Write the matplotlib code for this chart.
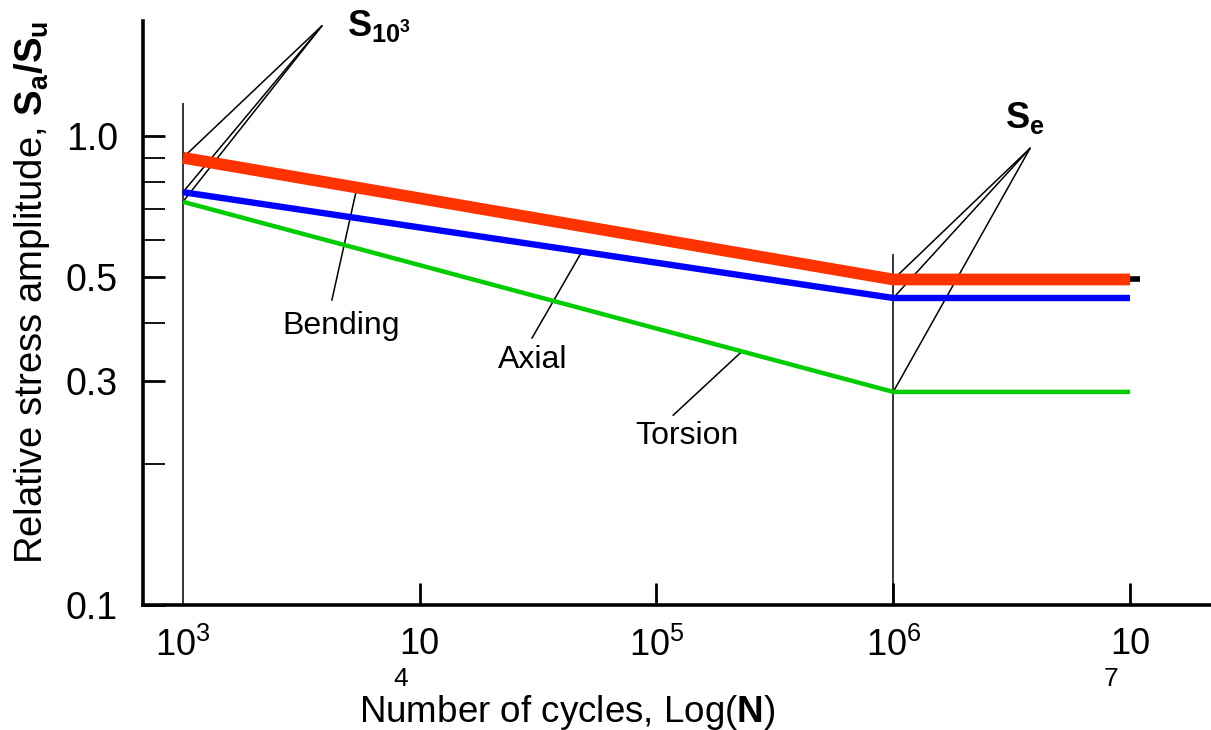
import numpy as np
import matplotlib
matplotlib.use('Agg')
import matplotlib.pyplot as plt
from matplotlib.ticker import FixedLocator, NullLocator, NullFormatter

plt.rcParams['font.family'] = ['Liberation Sans', 'DejaVu Sans']
plt.rcParams['mathtext.fontset'] = 'custom'
plt.rcParams['mathtext.rm'] = 'Liberation Sans'
plt.rcParams['mathtext.bf'] = 'Liberation Sans:bold'

# data
cycles = [1e3, 1e6, 1e7]
bending = [0.90, 0.495, 0.495]
axial = [0.76, 0.452, 0.452]
torsion = [0.725, 0.285, 0.285]

x_ticks = [1e3, 1e4, 1e5, 1e6, 1e7]
x_ticklabels = ['$10^3$', '10', '$10^5$', '$10^6$', '10']
y_major = [0.1, 0.3, 0.5, 1.0]
y_major_labels = ['0.1', '0.3', '0.5', '1.0']
y_minor = [0.2, 0.4, 0.6, 0.7, 0.8, 0.9]


def on_line(series, x):
    # point on a straight log-log segment
    return 10 ** np.interp(np.log10(x), np.log10(cycles), np.log10(series))


fig = plt.figure(figsize=(12.11, 7.30), dpi=100)
ax = fig.add_axes([0.118, 0.171, 0.882, 0.80])
ax.set_xscale('log')
ax.set_yscale('log')
ax.set_xlim(10 ** 2.831, 10 ** 7.342)
ax.set_ylim(0.1, 1.76)

# reference verticals at 10^3 and 10^6
ax.vlines(cycles[0], 0.1, 1.176, color='black', lw=1.1, zorder=1)
ax.vlines(cycles[1], 0.1, 0.56, color='black', lw=1.1, zorder=1)

ax.plot(cycles, bending, color='#ff3300', lw=8.5, solid_capstyle='butt', zorder=3)
ax.plot(cycles, axial, color='#0000ff', lw=4.6, solid_capstyle='butt', zorder=3)
ax.plot(cycles, torsion, color='#00cc00', lw=3.2, solid_capstyle='butt', zorder=3)
ax.plot([cycles[-1], cycles[-1] * 1.1], [bending[-1], bending[-1]],
        color='black', lw=4, solid_capstyle='butt', zorder=3)

# leaders for S_10^3 and S_e
leader = dict(arrowprops=dict(arrowstyle='-', color='black', lw=1.1,
                              shrinkA=0, shrinkB=0), zorder=2)
apex_s103 = (10 ** 3.587, 1.72)
for s in (bending, axial, torsion):
    ax.annotate('', xy=(cycles[0], s[0]), xytext=apex_s103, **leader)
ax.text(10 ** 3.693, 1.64, r'$\mathbf{S_{10^3}}$', fontsize=26, va='baseline', ha='left')

apex_se = (10 ** 6.578, 0.943)
for s in (bending, axial, torsion):
    ax.annotate('', xy=(cycles[1], s[1]), xytext=apex_se, **leader)
ax.text(10 ** 6.472, 1.04, r'$\mathbf{S_e}$', fontsize=26, va='baseline', ha='left')

# curve labels
labels = [('Bending', bending, 10 ** 3.735, (10 ** 3.629, 0.447), (10 ** 3.667, 0.394)),
          ('Axial', axial, 10 ** 4.685, (10 ** 4.474, 0.371), (10 ** 4.478, 0.333)),
          ('Torsion', torsion, 10 ** 5.361, (10 ** 5.070, 0.254), (10 ** 5.129, 0.230))]
for name, s, xa, tail, pos in labels:
    ax.annotate('', xy=(xa, on_line(s, xa)), xytext=tail, **leader)
    ax.text(pos[0], pos[1], name, fontsize=23, ha='center', va='center')

# axes styling
for side in ('top', 'right'):
    ax.spines[side].set_visible(False)
ax.spines['left'].set_linewidth(2.6)
ax.spines['bottom'].set_linewidth(2.6)

ax.xaxis.set_major_locator(FixedLocator(x_ticks))
ax.xaxis.set_minor_locator(NullLocator())
ax.set_xticklabels(x_ticklabels, fontsize=26)
ax.tick_params(axis='x', which='major', direction='in', length=16, width=2, pad=16)
ax.xaxis.get_major_ticks()[0].tick1line.set_visible(False)

ax.yaxis.set_major_locator(FixedLocator(y_major))
ax.yaxis.set_minor_locator(FixedLocator(y_minor))
ax.yaxis.set_minor_formatter(NullFormatter())
ax.set_yticklabels(y_major_labels, fontsize=27)
ax.tick_params(axis='y', which='major', direction='in', length=16, width=2, pad=18)
ax.tick_params(axis='y', which='minor', direction='in', length=16, width=1.3)

# odd dropped exponents under 10 (4 and 7)
for xt, exp in ((x_ticks[1], '4'), (x_ticks[4], '7')):
    ax.annotate(exp, xy=(xt, 0.1), xytext=(-14, -53), textcoords='offset points',
                fontsize=19, ha='center', va='center')

fig.text(567 / 1211, 18 / 730, r'Number of cycles, Log($\mathbf{N}$)',
         fontsize=26.5, ha='center', va='center')
fig.text(32 / 1211, 0.60, r'Relative stress amplitude, $\mathbf{S_a/S_u}$',
         fontsize=27.5, rotation=90, ha='center', va='center')

plt.savefig('out.png', dpi=100)
